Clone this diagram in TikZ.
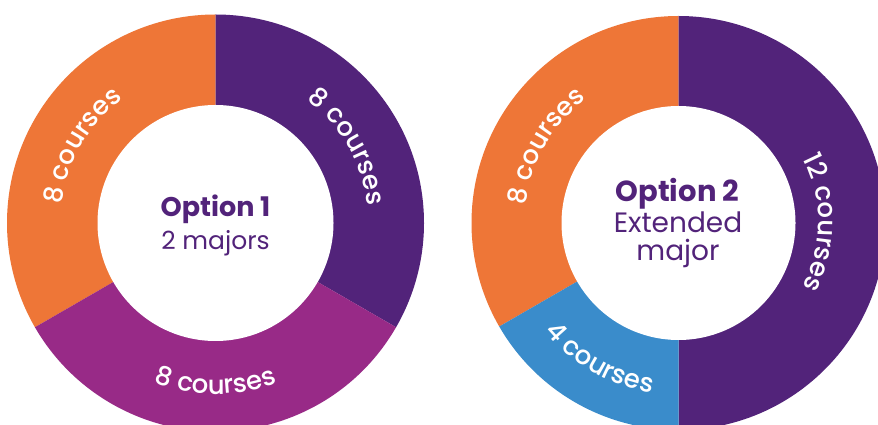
\documentclass[tikz,border=0pt]{standalone}
\usepackage{fontspec}
\setmainfont{Poppins}
\newfontfamily\medfont{Poppins Medium}
\usetikzlibrary{calc,decorations.text}
\definecolor{cOrange}{HTML}{EE7637}
\definecolor{cPurple}{HTML}{52237A}
\definecolor{cMagenta}{HTML}{982A87}
\definecolor{cBlue}{HTML}{3A8CCB}
\newcommand\lblfont{\medfont\fontsize{26}{26}\selectfont}
\tikzset{
  lbl/.style={decorate, decoration={text along path, text align=center, text color=white, text={|\lblfont|#1}}},
  hole/.style={circle, fill=white, inner sep=0pt, minimum size=#1},
  boldline/.style={anchor=base, text=cPurple, font=\bfseries\fontsize{#1}{#1}\selectfont, inner sep=0pt},
  normline/.style={anchor=base, text=cPurple, font=\fontsize{#1}{#1}\selectfont, inner sep=0pt},
}
\begin{document}
\begin{tikzpicture}[x=1pt,y=1pt]
\useasboundingbox (0,0) rectangle (878,425);
\clip (0,0) rectangle (878,425);
\fill[white] (0,0) rectangle (878,425);
\coordinate (C1) at (215.5,202);
\coordinate (C2) at (678.5,202);
% left donut
\fill[cOrange] (C1) -- ($(C1)+(90:208.5)$) arc[start angle=90, end angle=210, radius=208.5] -- cycle;
\fill[cPurple] (C1) -- ($(C1)+(90:208.5)$) arc[start angle=90, end angle=-30, radius=208.5] -- cycle;
\fill[cMagenta] (C1) -- ($(C1)+(-30:208.5)$) arc[start angle=-30, end angle=-150, radius=208.5] -- cycle;
\node[hole=236pt] (hole1) at (C1) {};
% right donut
\fill[cOrange] (C2) -- ($(C2)+(90:207)$) arc[start angle=90, end angle=210, radius=207] -- cycle;
\fill[cPurple] (C2) -- ($(C2)+(90:207)$) arc[start angle=90, end angle=-90, radius=207] -- cycle;
\fill[cBlue] (C2) -- ($(C2)+(210:207)$) arc[start angle=210, end angle=270, radius=207] -- cycle;
\node[hole=234pt] (hole2) at (C2) {};
% ring labels
\path[lbl={8 courses}] ($(C1)+(210:155)$) arc[start angle=210, end angle=90, radius=155];
\path[lbl={8 courses}] ($(C1)+(90:153)$) arc[start angle=90, end angle=-30, radius=153];
\path[lbl={8 courses}] ($(C1)+(210:171)$) arc[start angle=210, end angle=330, radius=171];
\path[lbl={8 courses}] ($(C2)+(210:154)$) arc[start angle=210, end angle=90, radius=154];
\path[lbl={12 courses}] ($(C2)+(90:140)$) arc[start angle=90, end angle=-90, radius=140];
\path[lbl={4 courses}] ($(C2)+(210:172)$) arc[start angle=210, end angle=270, radius=172];
% centre texts
\node[boldline=27] (opt1) at (215.5,208.3) {Option 1};
\node[normline=25] (maj1) at (215.5,175) {2 majors};
\node[boldline=29] (opt2) at (677.5,223) {Option 2};
\node[normline=28] (ext2) at (678,192) {Extended};
\node[normline=28] (maj2) at (678,164) {major};
\end{tikzpicture}
\end{document}
